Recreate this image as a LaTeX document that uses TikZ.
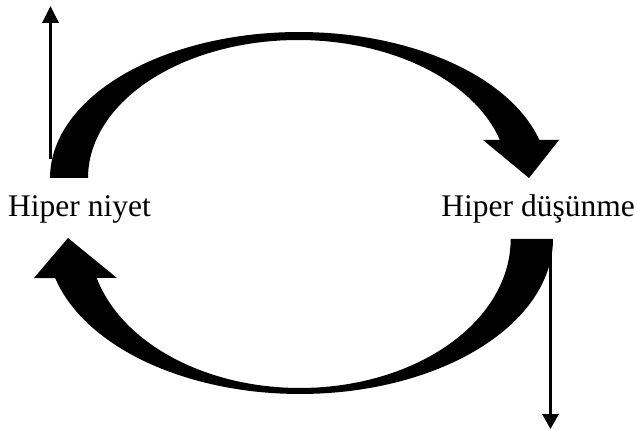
\documentclass[tikz,border=0pt]{standalone}
\usepackage{fontspec}
\setmainfont{Liberation Serif}
\usetikzlibrary{arrows.meta}
\begin{document}
\begin{tikzpicture}[x=1pt,y=-1pt,
  label/.style={font=\fontsize{31.5}{36}\selectfont, inner sep=0pt},
  band/.style={fill=black, draw=none},
  thin arrow/.style={line width=3pt, -{Triangle[length=#1,width=16pt]}}]
\useasboundingbox (0,0) rectangle (637,430);

% labels
\node[label, anchor=base west] (niyet) at (8,217) {Hiper niyet};
\node[label, anchor=base east] (dusunme) at (635,217) {Hiper düşünme};

% upper curved arrow: from above "Hiper niyet" over to "Hiper düşünme"
\fill[band]
  plot[domain=180:15.1, samples=80] ({299+249*cos(\x)}, {178-146*sin(\x)})
  -- (559,140) -- (529,178) -- (483,140) -- (499.9,140)
  -- plot[domain=16:180, samples=80] ({298+210*cos(\x)}, {178-138*sin(\x)})
  -- cycle;

% lower curved arrow: from below "Hiper düşünme" back to "Hiper niyet"
\fill[band]
  plot[domain=0:-165.4, samples=80] ({300+253*cos(\x)}, {239-155*sin(\x)})
  -- (34,278) -- (68,238) -- (117,278) -- (96.7,278)
  -- plot[domain=-164.8:0, samples=80] ({300+210.7*cos(\x)}, {239-149*sin(\x)})
  -- cycle;

% thin vertical arrows
\coordinate (lbase) at (50.5,159);
\coordinate (ltip) at (50.5,6);
\coordinate (rbase) at (550.5,239);
\coordinate (rtip) at (550.5,429);
\draw[thin arrow=17pt] (lbase) -- (ltip);
\draw[thin arrow=15pt] (rbase) -- (rtip);
\end{tikzpicture}
\end{document}
